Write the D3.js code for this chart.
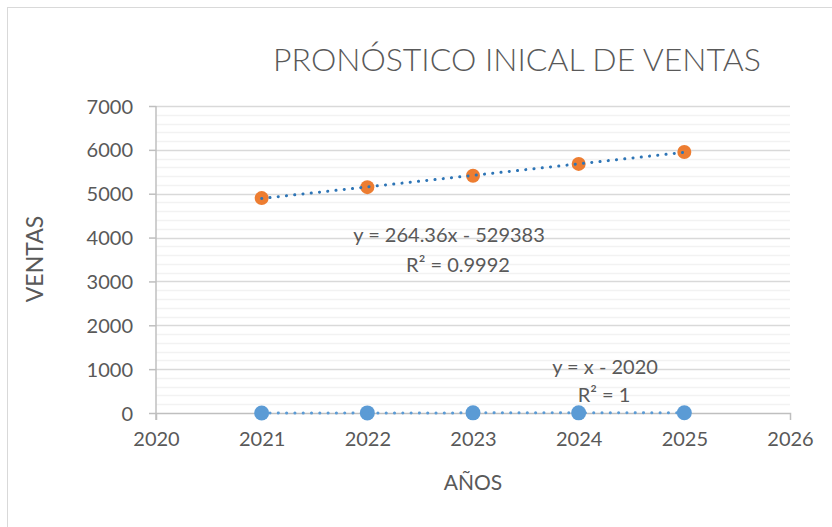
<!DOCTYPE html>
<html>
<head>
<meta charset="utf-8">
<script src="https://cdn.jsdelivr.net/npm/d3@7"></script>
<style>
  body { margin: 0; background: #fff; }
  text { font-family: Lato, "Open Sans", sans-serif; fill: #595959; }
</style>
</head>
<body>
<script>
// chart data
var years = [2021, 2022, 2023, 2024, 2025];
var ventas = [4900, 5150, 5410, 5680, 5950];   // orange series
var indice = [1, 2, 3, 4, 5];                   // blue series
var yTicks = [0, 1000, 2000, 3000, 4000, 5000, 6000, 7000];
var xTicks = [2020, 2021, 2022, 2023, 2024, 2025, 2026];
var eqVentas = ["y = 264.36x - 529383", "R² = 0.9992"];
var eqIndice = ["y = x - 2020", "R² = 1"];

var width = 832, height = 527;
var svg = d3.select("body").append("svg")
    .attr("width", width)
    .attr("height", height);

// chart frame
svg.append("rect")
    .attr("x", 7.5).attr("y", 7.5)
    .attr("width", 840).attr("height", 540)
    .attr("fill", "none")
    .attr("stroke", "#d9d9d9");

var x = d3.scaleLinear().domain([2020, 2026]).range([156, 790]);
var y = d3.scaleLinear().domain([0, 7000]).range([413, 106]);

// minor gridlines every 200
var minor = d3.range(200, 7000, 200).filter(function(v){ return v % 1000 != 0; });
svg.selectAll(".minor").data(minor).enter().append("line")
    .attr("x1", x(2020)).attr("x2", x(2026))
    .attr("y1", function(d){ return Math.round(y(d)) + 0.5; })
    .attr("y2", function(d){ return Math.round(y(d)) + 0.5; })
    .attr("stroke", "#f2f2f2").attr("stroke-width", 1.5);

// major gridlines
svg.selectAll(".major").data(yTicks.slice(1)).enter().append("line")
    .attr("x1", x(2020)).attr("x2", x(2026))
    .attr("y1", function(d){ return Math.round(y(d)) + 0.5; })
    .attr("y2", function(d){ return Math.round(y(d)) + 0.5; })
    .attr("stroke", "#d9d9d9").attr("stroke-width", 1.5);

// y axis
var yAxis = d3.axisLeft(y).tickValues(yTicks).tickFormat(d3.format("d")).tickSize(7).tickPadding(16);
var gy = svg.append("g").attr("transform", "translate(" + x(2020) + ",0)").call(yAxis);
gy.select(".domain").remove();
gy.selectAll(".tick line").attr("stroke", "#bfbfbf").attr("stroke-width", 1.5);
gy.append("line").attr("x1", 0).attr("x2", 0).attr("y1", y(7000)).attr("y2", y(0) + 7)
    .attr("stroke", "#bfbfbf").attr("stroke-width", 1.5);
gy.selectAll(".tick text").style("font-size", "20px").attr("fill", "#595959").attr("dy", "0.35em");

// x axis
var xAxis = d3.axisBottom(x).tickValues(xTicks).tickFormat(d3.format("d"))
    .tickSizeInner(0).tickSizeOuter(7).tickPadding(19);
var gx = svg.append("g").attr("transform", "translate(0," + y(0) + ")").call(xAxis);
gx.select(".domain").attr("stroke", "#bfbfbf").attr("stroke-width", 1.5);
gx.selectAll(".tick text").style("font-size", "20px").attr("fill", "#595959");

// trendline helper (least squares)
function fit(xs, ys){
    var mx = d3.mean(xs), my = d3.mean(ys);
    var num = d3.sum(xs, function(v, i){ return (v - mx) * (ys[i] - my); });
    var den = d3.sum(xs, function(v){ return (v - mx) * (v - mx); });
    var b = num / den;
    return function(v){ return my + b * (v - mx); };
}

function drawSeries(vals, color, trendColor, r){
    var f = fit(years, vals);
    svg.selectAll(null).data(years).enter().append("circle")
        .attr("cx", function(d){ return x(d); })
        .attr("cy", function(d, i){ return y(vals[i]); })
        .attr("r", r)
        .attr("fill", color);
    svg.append("line")
        .attr("x1", x(years[0])).attr("y1", y(f(years[0])))
        .attr("x2", x(years[years.length - 1])).attr("y2", y(f(years[years.length - 1])))
        .attr("stroke", trendColor)
        .attr("stroke-width", 3)
        .attr("stroke-linecap", "round")
        .attr("stroke-dasharray", "0.1 8.2");
}

drawSeries(indice, "#5b9bd5", "#5b9bd5", 7.5);
drawSeries(ventas, "#ed7d31", "#2e75b6", 7);

// equation labels
svg.selectAll(".eq1").data(eqVentas).enter().append("text")
    .attr("x", function(d, i){ return i == 0 ? 449 : 458; })
    .attr("y", function(d, i){ return 242 + i * 30; })
    .attr("text-anchor", "middle")
    .style("font-size", "20px")
    .text(function(d){ return d; });
svg.selectAll(".eq2").data(eqIndice).enter().append("text")
    .attr("x", function(d, i){ return i == 0 ? 605 : 604; })
    .attr("y", function(d, i){ return 374 + i * 28; })
    .attr("text-anchor", "middle")
    .style("font-size", "20px")
    .text(function(d){ return d; });

// title
svg.append("text")
    .attr("x", 517).attr("y", 71)
    .attr("text-anchor", "middle")
    .style("font-size", "32px")
    .style("font-weight", 300)
    .text("PRONÓSTICO INICAL DE VENTAS");

// axis titles
svg.append("text")
    .attr("x", 473).attr("y", 490)
    .attr("text-anchor", "middle")
    .style("font-size", "21px")
    .text("AÑOS");
svg.append("text")
    .attr("transform", "translate(43,259) rotate(-90)")
    .attr("text-anchor", "middle")
    .style("font-size", "23px")
    .text("VENTAS");
</script>
</body>
</html>
